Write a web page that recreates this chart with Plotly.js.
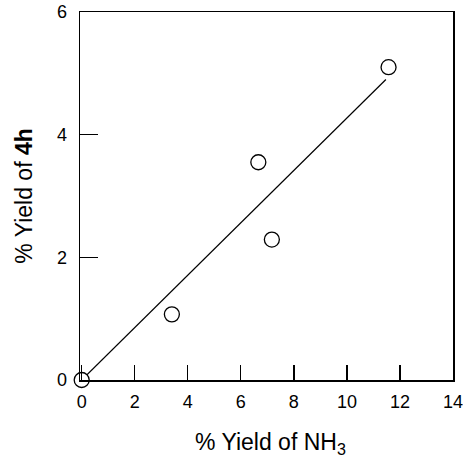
<!DOCTYPE html>
<html>
<head>
<meta charset="utf-8">
<script src="https://cdn.plot.ly/plotly-3.0.1.min.js"></script>
<style>html,body{margin:0;padding:0;background:#fff;}#chart{width:463px;height:458px;}</style>
</head>
<body>
<div id="chart"></div>
<script>
// Data
const yieldNH3 = [0, 3.4, 6.66, 7.17, 11.57];
const yield4h = [0, 1.07, 3.55, 2.29, 5.10];
const fitX = [0, 11.47];
const fitY = [0, 4.90];
const xTickVals = [0, 2, 4, 6, 8, 10, 12, 14];
const yTickVals = [0, 2, 4, 6];
const xTitle = '% Yield of NH<sub>3</sub>';
const yTitle = '% Yield of <b>4h</b>';

const font = 'Liberation Sans, Arial, Helvetica, sans-serif';

const traces = [
  {x: fitX, y: fitY, mode: 'lines', line: {color: '#000', width: 1.2}, showlegend: false, hoverinfo: 'skip'},
  {x: yieldNH3, y: yield4h, mode: 'markers', cliponaxis: false,
   marker: {symbol: 'circle', size: 15, color: '#fff', line: {color: '#000', width: 1.3}}, showlegend: false}
];

const layout = {
  width: 463, height: 458,
  margin: {l: 80, r: 10, t: 12, b: 78},
  paper_bgcolor: '#fff', plot_bgcolor: '#fff',
  font: {family: font, color: '#000', size: 18},
  xaxis: {
    range: [-0.064, 14], tickvals: xTickVals, ticktext: xTickVals.map(String),
    ticks: 'inside', ticklen: 15, tickwidth: 1.3, tickcolor: '#000',
    showline: true, linecolor: '#000', linewidth: 1.5, mirror: true,
    showgrid: false, zeroline: false, ticklabelstandoff: 5,
    ticklabeloverflow: 'allow',
    tickfont: {size: 18}
  },
  yaxis: {
    range: [0, 6], tickvals: yTickVals, ticktext: yTickVals.map(String),
    ticks: 'inside', ticklen: 18, tickwidth: 1.3, tickcolor: '#000',
    showline: true, linecolor: '#000', linewidth: 1.5, mirror: true,
    showgrid: false, zeroline: false, ticklabelstandoff: 8,
    ticklabeloverflow: 'allow',
    tickfont: {size: 18},
    title: {text: yTitle, font: {size: 23}, standoff: 18}
  },
  annotations: [{
    text: xTitle, xref: 'paper', yref: 'paper', x: 0.512, y: -0.172,
    xanchor: 'center', yanchor: 'middle', showarrow: false,
    font: {size: 23, family: font, color: '#000'}
  }]
};

Plotly.newPlot('chart', traces, layout, {displayModeBar: false, staticPlot: true});
</script>
</body>
</html>
